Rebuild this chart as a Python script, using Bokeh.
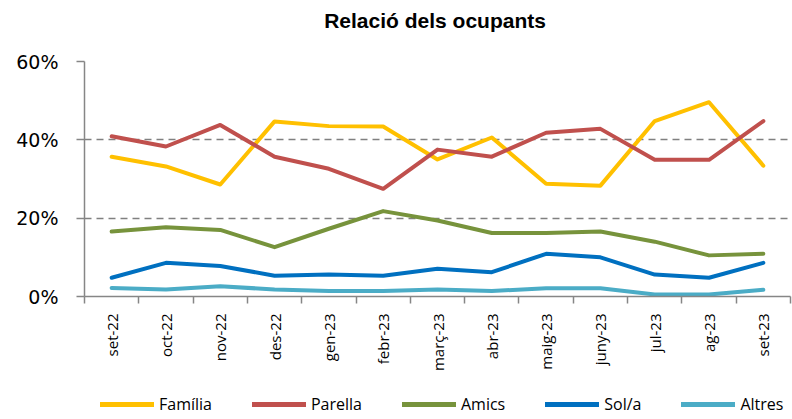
import math
from bokeh.plotting import figure
from bokeh.layouts import column
from bokeh.models import (FixedTicker, Range1d, Legend, LegendItem, NumeralTickFormatter,
                          ColumnDataSource, Label)
from bokeh.embed import file_html
from bokeh.resources import INLINE

title_text = "Relació dels ocupants"
months = ["set-22", "oct-22", "nov-22", "des-22", "gen-23", "febr-23", "març-23",
          "abr-23", "maig-23", "juny-23", "jul-23", "ag-23", "set-23"]
familia = [35.7, 33.2, 28.6, 44.7, 43.5, 43.4, 35.0, 40.6, 28.8, 28.3, 44.8, 49.6, 33.4]
parella = [40.9, 38.3, 43.8, 35.7, 32.6, 27.5, 37.5, 35.7, 41.8, 42.8, 34.9, 34.9, 44.8]
amics = [16.6, 17.7, 17.0, 12.6, 17.3, 21.8, 19.4, 16.2, 16.2, 16.6, 14.0, 10.5, 10.9]
sola = [4.8, 8.6, 7.8, 5.3, 5.6, 5.3, 7.1, 6.2, 10.9, 10.0, 5.6, 4.8, 8.6]
altres = [2.2, 1.8, 2.6, 1.8, 1.4, 1.4, 1.8, 1.4, 2.1, 2.1, 0.5, 0.5, 1.7]

series_names = ["Família", "Parella", "Amics", "Sol/a", "Altres"]
series_values = [familia, parella, amics, sola, altres]
series_colors = ["#FFC000", "#C0504D", "#77933C", "#0070C0", "#4BACC6"]
y_ticks = [0.0, 0.2, 0.4, 0.6]

xs = [i + 0.5 for i in range(len(months))]


def blank_strip(h):
    f = figure(width=792, height=h, output_backend="svg", toolbar_location=None,
               x_range=Range1d(0, 1), y_range=Range1d(0, 1),
               min_border_left=84, min_border_right=2, min_border_top=0, min_border_bottom=0)
    f.axis.visible = False
    f.grid.visible = False
    f.outline_line_color = None
    f.background_fill_color = "white"
    f.border_fill_color = "white"
    return f


# title strip
tf = blank_strip(40)
tf.add_layout(Label(x=0.4965, y=0.5, text=title_text, text_align="center",
                    text_baseline="middle", text_font="Liberation Sans",
                    text_font_size="21px", text_font_style="bold", text_color="#000000"))

p = figure(width=792, height=340, output_backend="svg", toolbar_location=None,
           x_range=Range1d(0, len(months)), y_range=Range1d(0, 0.6),
           min_border_left=84, min_border_right=2, min_border_top=21, min_border_bottom=84)
p.outline_line_color = None
p.background_fill_color = "white"
p.border_fill_color = "white"

# y axis
p.yaxis.ticker = FixedTicker(ticks=y_ticks)
p.yaxis.formatter = NumeralTickFormatter(format="0%")
p.yaxis.axis_line_color = "#868686"
p.yaxis.axis_line_width = 1.5
p.yaxis.major_tick_line_color = "#868686"
p.yaxis.major_tick_line_width = 1.5
p.yaxis.major_tick_out = 8
p.yaxis.major_tick_in = 0
p.yaxis.minor_tick_line_color = None
p.yaxis.major_label_text_font = "DejaVu Sans"
p.yaxis.major_label_text_font_size = "19px"
p.yaxis.major_label_text_color = "#000000"
p.yaxis.major_label_standoff = 18

# x axis
p.xaxis.ticker = FixedTicker(ticks=xs, minor_ticks=list(range(len(months) + 1)))
p.xaxis.major_label_overrides = {x: m for x, m in zip(xs, months)}
p.xaxis.major_label_orientation = math.pi / 2
p.xaxis.axis_line_color = "#868686"
p.xaxis.axis_line_width = 1.5
p.xaxis.major_tick_line_color = None
p.xaxis.major_tick_out = 0
p.xaxis.major_tick_in = 0
p.xaxis.minor_tick_line_color = "#868686"
p.xaxis.minor_tick_line_width = 1.5
p.xaxis.minor_tick_out = 7
p.xaxis.minor_tick_in = 0
p.xaxis.major_label_text_font = "Open Sans"
p.xaxis.major_label_text_font_size = "15px"
p.xaxis.major_label_text_color = "#000000"
p.xaxis.major_label_standoff = 10

p.xgrid.grid_line_color = None
p.ygrid.ticker = FixedTicker(ticks=y_ticks[1:])
p.ygrid.grid_line_color = "#808080"
p.ygrid.grid_line_dash = "7 5"
p.ygrid.grid_line_width = 1.3

for vals, col in zip(series_values, series_colors):
    src = ColumnDataSource(dict(x=xs, y=[v / 100 for v in vals]))
    p.line("x", "y", source=src, line_color=col, line_width=4,
           line_join="round", line_cap="round")

# legend strip (its proxy lines sit outside its visible range)
lf = blank_strip(39)
lf.x_range = Range1d(0, len(months))
lf.y_range = Range1d(10, 11)
items = []
for name, vals, col in zip(series_names, series_values, series_colors):
    src = ColumnDataSource(dict(x=xs, y=[v / 100 for v in vals]))
    r = lf.line("x", "y", source=src, line_color=col, line_width=5, line_cap="round")
    items.append(LegendItem(label=name, renderers=[r]))
legend = Legend(items=items, orientation="horizontal", location=(16, 4),
                glyph_width=54, glyph_height=18, label_standoff=5, spacing=40,
                padding=0, margin=0, border_line_color=None, background_fill_alpha=0,
                label_text_font="Open Sans", label_text_font_size="16px",
                label_text_color="#000000", label_height=18)
lf.add_layout(legend, "center")

open("out.html", "w").write(file_html(column(tf, p, lf, spacing=0), INLINE))
